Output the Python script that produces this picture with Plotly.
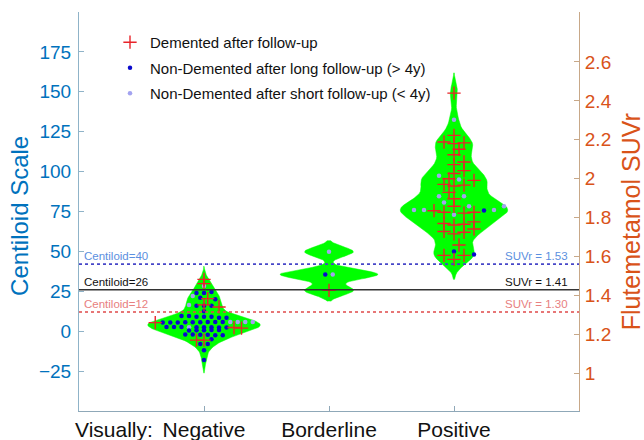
import numpy as np
import plotly.graph_objects as go

# ---------------- data ----------------
categories = ["Negative", "Borderline", "Positive"]
cat_pos = [1, 2, 3]

neg_demented = [32.5, 29.8, 20.4, 16.5, 15.2, 5.4, 2.3, 1.9, -5.6, -5.6]
neg_long = [24.5, 24, 24, 21, 20, 16, 16, 16, 12.5,
            9.5, 9, 8.5, 9, 9.5, 8.5, 9,
            5.8, 5.6, 5.4, 5.8, 5.6, 5.4, 5.8, 5.6, 5.4,
            2.5, 2.7, 2.3, 2.5, 2.7, 2.3, 2.5, 2.6,
            0.6, 0.8, 0.4, 0.6, 0.8,
            -2.3, -2.1, -2.5, -2.3, -2.1, -2.5,
            -5, -8, -8, -12, -18]
neg_short = [28.3, 22, 16.4, 5.8, 5.8, 5.8, 5.8, 2.5]

bor_demented = [25.6]
bor_long = [35.6]
bor_short = [49.8, 35.6]

pos_demented = [149.2, 122.7, 118, 118.5, 117.5, 114, 110.6, 106, 104.4, 100.6,
                98.8, 95.5, 94.5, 91, 91.5, 92, 87, 83, 78.3, 74.5, 75.5, 74,
                74.5, 67.5, 66.5, 67, 68.5, 62, 64, 61, 62.5, 54, 47.5, 45, 47.5]
pos_long = [75.6, 48, 50]
pos_short = [132.5, 97.4, 95, 84.6, 84.6, 80.6, 76, 76, 76, 78.3, 78.3, 73]

ref_centiloid = [42, 26, 12]
ref_cl_labels = ["Centiloid=40", "Centiloid=26", "Centiloid=12"]
ref_suvr_labels = ["SUVr = 1.53", "SUVr = 1.41", "SUVr = 1.30"]

left_ticks = [-25, 0, 25, 50, 75, 100, 125, 150, 175]
right_ticks = [1, 1.2, 1.4, 1.6, 1.8, 2, 2.2, 2.4, 2.6]
right_ticktext = ["1", "1.2", "1.4", "1.6", "1.8", "2", "2.2", "2.4", "2.6"]

violin_halfwidth = [0.45, 0.39, 0.43]
violin_bw = [3.6, 3.0, 5.5]
row_bin = [3.0, 3.0, 4.0]
layout_kind = ["rows", "rows", "swarm"]

# ---------------- styling ----------------
BLUE_AX = "#0072BD"
ORANGE_AX = "#D95319"
GREEN = "#00FF00"
FONT = "Liberation Sans, Arial, sans-serif"
SPACING = 0.06  # horizontal spacing of points in a row (x units)
PX_X = 125.0    # px per x unit
PX_Y = 1.596    # px per centiloid unit

groups = [
    (neg_demented, neg_long, neg_short),
    (bor_demented, bor_long, bor_short),
    (pos_demented, pos_long, pos_short),
]


def row_layout(values, center, bin_size, spacing):
    values = np.asarray(values, dtype=float)
    bins = np.round(values / bin_size)
    xs = np.zeros(len(values))
    for b in np.unique(bins):
        idx = np.where(bins == b)[0]
        idx = idx[np.argsort(values[idx], kind="stable")]
        if int(b) % 2:
            idx = idx[::-1]
        n = len(idx)
        offs = (np.arange(n) - (n - 1) / 2.0) * spacing
        xs[idx] = center + offs
    return xs


def swarm_layout(values, center, d=7.0, step=0.04):
    values = np.asarray(values, dtype=float)
    order = np.argsort(values, kind="stable")
    placed = []
    xs = np.zeros(len(values))
    cands = [0.0]
    for j in range(1, 30):
        cands += [j * step, -j * step]
    for i in order:
        v = values[i]
        for c in cands:
            if all(((c - px) * PX_X) ** 2 + ((v - py) * PX_Y) ** 2 >= d * d
                   for px, py in placed):
                break
        placed.append((c, v))
        xs[i] = center + c
    return xs


def kde_outline(values, center, bw, halfwidth):
    v = np.asarray(values, dtype=float)
    g = np.linspace(v.min() - 2.3 * bw, v.max() + 2.3 * bw, 90)
    dens = np.exp(-0.5 * ((g[:, None] - v[None, :]) / bw) ** 2).sum(axis=1)
    half = dens / dens.max() * halfwidth
    xx = np.concatenate([center + half, (center - half)[::-1]])
    yy = np.concatenate([g, g[::-1]])
    return xx, yy


fig = go.Figure()

# violins
for k, (cp, g) in enumerate(zip(cat_pos, groups)):
    allv = list(g[0]) + list(g[1]) + list(g[2])
    vx, vy = kde_outline(allv, cp, violin_bw[k], violin_halfwidth[k])
    fig.add_trace(go.Scatter(x=vx, y=vy, mode="lines", fill="toself",
                             fillcolor=GREEN, line=dict(color=GREEN, width=0.5),
                             showlegend=False, hoverinfo="skip"))

# markers
xd, yd, xl, yl, xs_, ys_ = [], [], [], [], [], []
for k, (cp, g) in enumerate(zip(cat_pos, groups)):
    allv = list(g[0]) + list(g[1]) + list(g[2])
    if layout_kind[k] == "rows":
        xx = row_layout(allv, cp, row_bin[k], SPACING)
    else:
        xx = swarm_layout(allv, cp)
    n0, n1 = len(g[0]), len(g[1])
    xd += list(xx[:n0]); yd += list(g[0])
    xl += list(xx[n0:n0 + n1]); yl += list(g[1])
    xs_ += list(xx[n0 + n1:]); ys_ += list(g[2])

fig.add_trace(go.Scatter(
    x=xs_, y=ys_, mode="markers", name="Non-Demented after short follow-up (< 4y)",
    marker=dict(color="#A3A3F0", size=4.5), legendrank=3, legendgroup="c"))
fig.add_trace(go.Scatter(
    x=xl, y=yl, mode="markers", name="Non-Demented after long follow-up (> 4y)",
    marker=dict(color="#0A0ACC", size=4.5), legendrank=2, legendgroup="b"))
fig.add_trace(go.Scatter(
    x=xd, y=yd, mode="markers", name="Demented after follow-up",
    marker=dict(symbol="cross-thin-open", color="#E8242A", size=9.5,
                line=dict(color="#E8242A", width=1.4)), legendrank=1, legendgroup="a"))

# invisible trace for right axis
fig.add_trace(go.Scatter(x=[None], y=[None], yaxis="y2", showlegend=False,
                         hoverinfo="skip"))

# reference lines
line_styles = [
    dict(color="#4646C8", width=1.6, dash="dot"),
    dict(color="#333333", width=1.6),
    dict(color="#E04A4A", width=1.6, dash="dot"),
]
lab_colors = ["#5B8FE0", "#111111", "#E88080"]
for yv, st, lc, ltxt, rtxt in zip(ref_centiloid, line_styles, lab_colors,
                                   ref_cl_labels, ref_suvr_labels):
    fig.add_shape(type="line", xref="paper", x0=0, x1=1, yref="y", y0=yv, y1=yv,
                  line=st, layer="above")
    fig.add_annotation(xref="paper", x=0.006, yref="y", y=yv, yanchor="bottom",
                       xanchor="left", text=ltxt, showarrow=False,
                       font=dict(size=11.5, color=lc, family=FONT))
    fig.add_annotation(xref="paper", x=0.982, yref="y", y=yv, yanchor="bottom",
                       xanchor="right", text=rtxt, showarrow=False,
                       font=dict(size=11.5, color=lc, family=FONT))

# axis titles and "Visually:"
fig.add_annotation(xref="paper", x=-0.118, yref="paper", y=0.489, textangle=-90,
                   xanchor="center", yanchor="middle",
                   text="Centiloid Scale", showarrow=False,
                   font=dict(size=24, color=BLUE_AX, family=FONT))
fig.add_annotation(xref="paper", x=1.103, yref="paper", y=0.474, textangle=-90,
                   xanchor="center", yanchor="middle",
                   text="Flutemetamol SUVr", showarrow=False,
                   font=dict(size=25, color=ORANGE_AX, family=FONT))
fig.add_annotation(xref="paper", x=-0.012, yref="paper", y=-0.012, yanchor="top",
                   xanchor="left", text="Visually:", showarrow=False,
                   font=dict(size=21, color="#111111", family=FONT))

fig.update_layout(
    width=644, height=440,
    margin=dict(l=79, r=65, t=12, b=29),
    paper_bgcolor="white", plot_bgcolor="white",
    font=dict(family=FONT),
    showlegend=True,
    legend=dict(x=0.062, y=0.965, xanchor="left", yanchor="top",
                bgcolor="rgba(0,0,0,0)", font=dict(size=15, color="#111111"),
                tracegroupgap=3),
    xaxis=dict(range=[0, 4], tickmode="array", tickvals=cat_pos, ticktext=categories,
               showgrid=False, zeroline=False, showline=True, linecolor="#8FA8B8",
               linewidth=1, ticks="inside", ticklen=5, tickcolor="#8FA8B8",
               automargin=False, ticklabelstandoff=0,
               tickfont=dict(size=21, color="#111111")),
    yaxis=dict(range=[-50, 200], tickmode="array", tickvals=left_ticks,
               showgrid=False, zeroline=False, showline=True, linecolor="#8FB3C8",
               linewidth=1, ticks="inside", ticklen=5, tickcolor="#8FB3C8",
               automargin=False, ticklabelstandoff=3,
               tickfont=dict(size=19, color=BLUE_AX)),
    yaxis2=dict(overlaying="y", side="right", range=[0.805, 2.857],
                tickmode="array", tickvals=right_ticks, ticktext=right_ticktext,
                showgrid=False, zeroline=False, showline=True, linecolor="#C8A888",
                linewidth=1, ticks="inside", ticklen=5, tickcolor="#C8A888",
                automargin=False, ticklabelstandoff=1,
                tickfont=dict(size=19, color=ORANGE_AX)),
)

# remove the browser's default body margin so the 644x440 figure fills the window
fig.write_html("out.html",
               config={"displayModeBar": False},
               post_script="document.body.style.margin='0';"
                           "document.body.style.overflow='hidden';")
